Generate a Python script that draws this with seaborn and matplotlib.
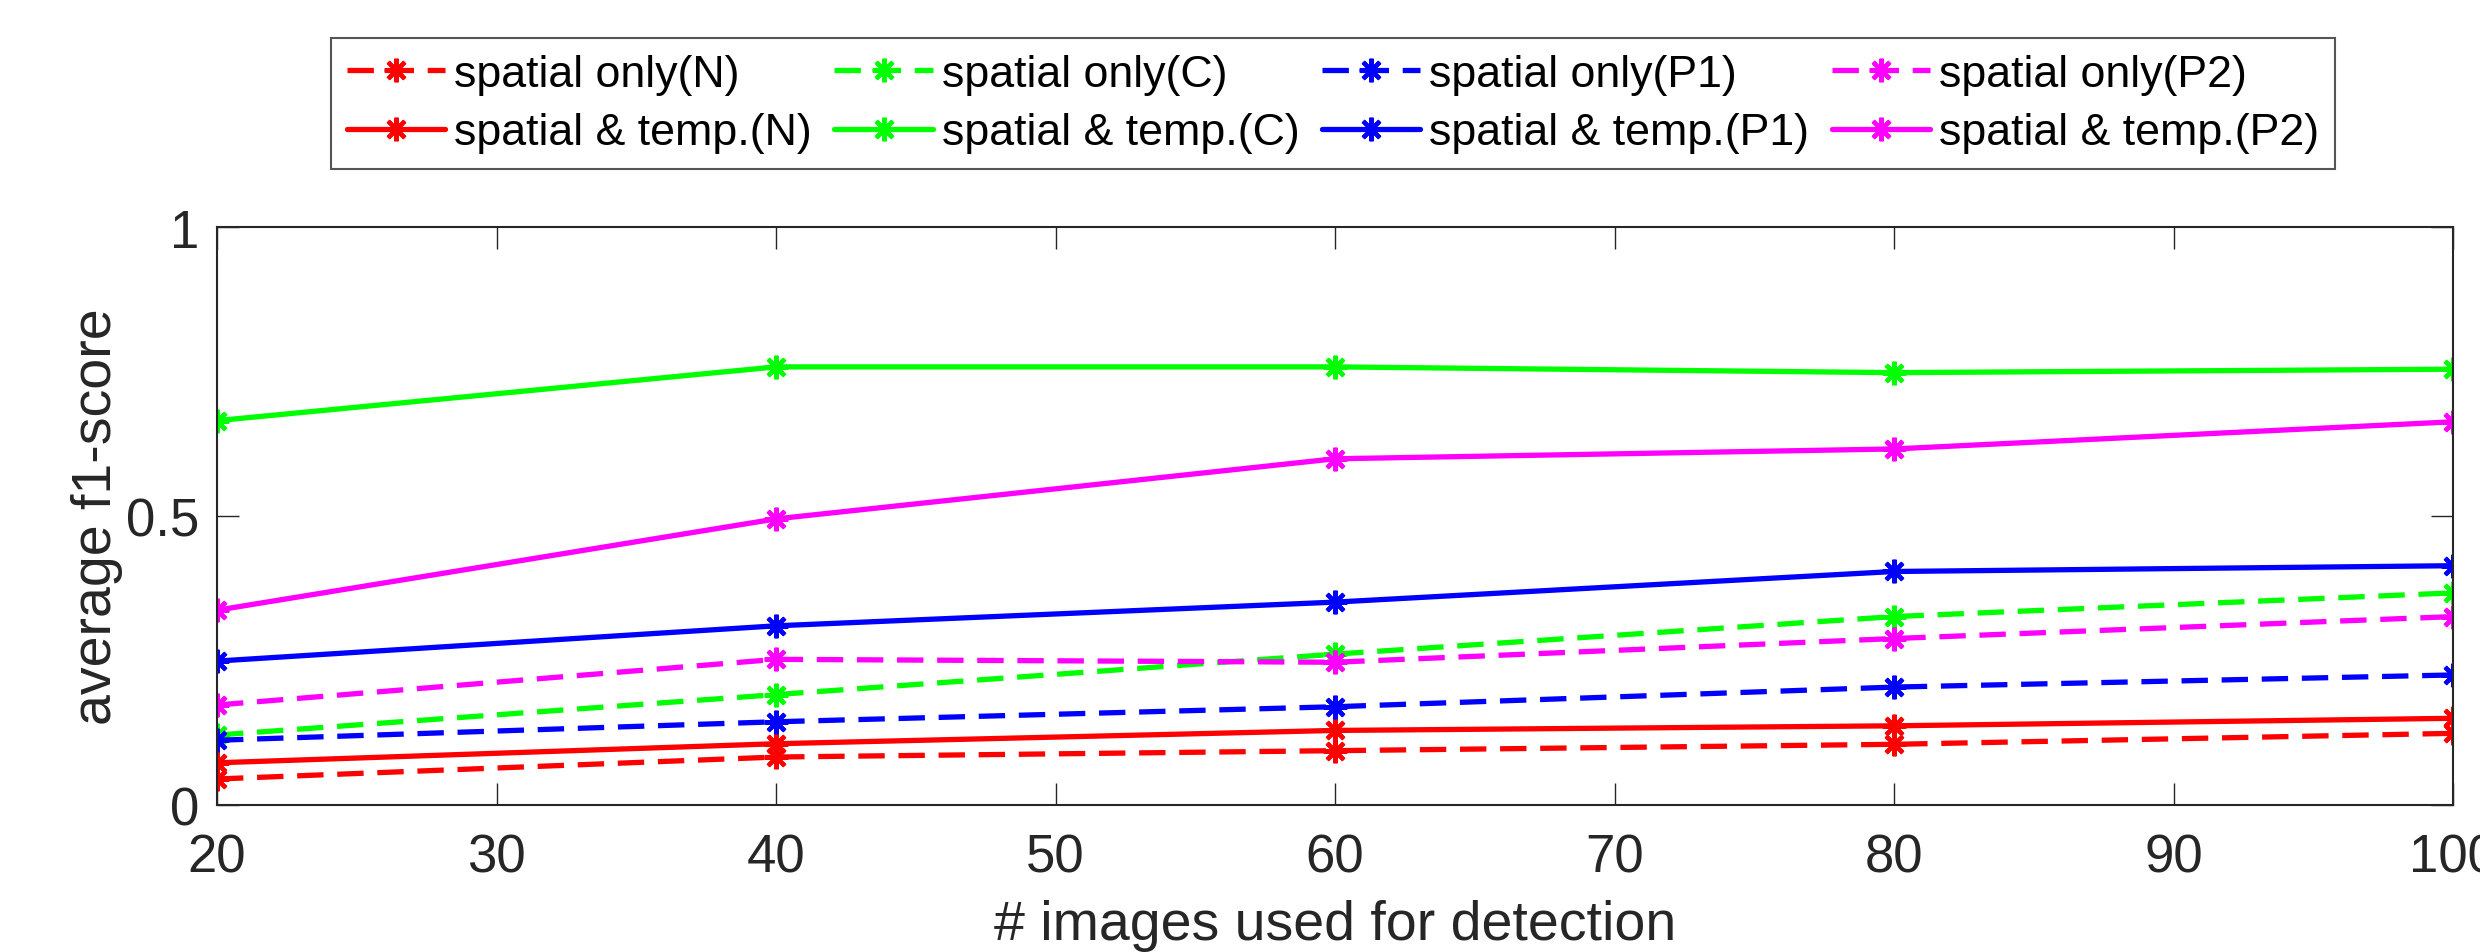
import matplotlib
matplotlib.use("Agg")
import matplotlib.pyplot as plt
import seaborn as sns
import numpy as np

# ---- data ----
n_images = [20, 40, 60, 80, 100]

only_N  = [0.045, 0.083, 0.094, 0.105, 0.124]
only_C  = [0.121, 0.191, 0.261, 0.326, 0.367]
only_P1 = [0.112, 0.144, 0.170, 0.204, 0.225]
only_P2 = [0.173, 0.252, 0.247, 0.288, 0.326]

temp_N  = [0.073, 0.106, 0.129, 0.137, 0.150]
temp_C  = [0.665, 0.758, 0.758, 0.748, 0.754]
temp_P1 = [0.249, 0.310, 0.351, 0.404, 0.414]
temp_P2 = [0.337, 0.495, 0.599, 0.616, 0.663]

labels_only = ["spatial only(N)", "spatial only(C)", "spatial only(P1)", "spatial only(P2)"]
labels_temp = ["spatial & temp.(N)", "spatial & temp.(C)", "spatial & temp.(P1)", "spatial & temp.(P2)"]
colors = ["#FF0000", "#00FF00", "#0000FF", "#FF00FF"]

x_ticks = [20, 30, 40, 50, 60, 70, 80, 90, 100]
y_ticks = [0, 0.5, 1]
y_ticklabels = ["0", "0.5", "1"]

sns.set_theme(style="white")
plt.rcParams["font.family"] = ["Liberation Sans", "DejaVu Sans"]

fig = plt.figure(figsize=(24.8, 9.53), dpi=100)
ax = fig.add_axes([217 / 2480, 1 - 806 / 953, (2453 - 217) / 2480, (806 - 228) / 953])

asterisk = (8, 2, 0)
lw = 3.8
ms = 17
mew = 3.0

only_series = [only_N, only_C, only_P1, only_P2]
temp_series = [temp_N, temp_C, temp_P1, temp_P2]

handles = []
for i in range(4):
    sns.lineplot(x=n_images, y=only_series[i], ax=ax, color=colors[i], linewidth=lw,
                 marker=asterisk, markersize=ms, markeredgecolor=colors[i],
                 markerfacecolor=colors[i], markeredgewidth=mew, label=labels_only[i])
    l_only = ax.lines[-1]
    l_only.set_linestyle((0, (5.0, 2.6)))
    sns.lineplot(x=n_images, y=temp_series[i], ax=ax, color=colors[i], linewidth=lw,
                 marker=asterisk, markersize=ms, markeredgecolor=colors[i],
                 markerfacecolor=colors[i], markeredgewidth=mew, label=labels_temp[i])
    l_temp = ax.lines[-1]
    handles += [l_only, l_temp]

ax.set_xlim(20, 100)
ax.set_ylim(0, 1)
ax.set_xticks(x_ticks)
ax.set_xticklabels([str(v) for v in x_ticks])
ax.set_yticks(y_ticks)
ax.set_yticklabels(y_ticklabels)

tick_color = "#262626"
ax.tick_params(axis="both", which="both", direction="in", length=16, width=1.0,
               colors=tick_color, labelsize=38, top=True, right=True,
               bottom=True, left=True)
ax.tick_params(axis="x", pad=20)
ax.tick_params(axis="y", pad=13)
for s in ax.spines.values():
    s.set_visible(True)
    s.set_color(tick_color)
    s.set_linewidth(1.5)

ax.set_xlabel("# images used for detection", fontsize=40, color=tick_color, labelpad=12)
ax.set_ylabel("average f1-score", fontsize=40, color=tick_color, labelpad=2)

leg_ax = ax.get_legend()
if leg_ax is not None:
    leg_ax.remove()

leg = fig.legend(handles=handles, labels=[h.get_label() for h in handles],
                 ncol=4, loc="center", bbox_to_anchor=(1333 / 2480, 1 - 104.5 / 953),
                 fontsize=32.2, frameon=True, fancybox=False, shadow=False,
                 framealpha=1, edgecolor="#555555", handlelength=2.2,
                 handletextpad=0.2, columnspacing=0.5, labelspacing=0.4,
                 borderpad=0.35, borderaxespad=0)
leg.get_frame().set_linewidth(1.5)
for t in leg.get_texts():
    t.set_color("black")

fig.savefig("out.png", dpi=100)
